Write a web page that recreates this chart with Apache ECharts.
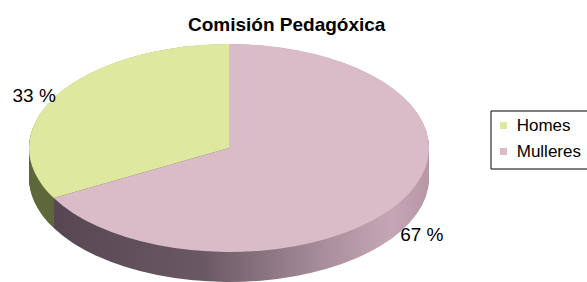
<!DOCTYPE html>
<html>
<head>
<meta charset="utf-8">
<title>Comisión Pedagóxica</title>
<script src="https://cdn.jsdelivr.net/npm/echarts@6/dist/echarts.min.js"></script>
<style>
  html, body { margin: 0; padding: 0; background: #fff; }
  #wrap { position: relative; width: 587px; height: 282px; overflow: hidden; }
  /* the pie is drawn round and squashed to look like the tilted 3d disc */
  #pie { position: absolute; left: 0; top: 0; width: 587px; height: 543px;
         transform: scaleY(0.52); transform-origin: 0 0; }
  #main { position: absolute; left: 0; top: 0; width: 587px; height: 282px; }
</style>
</head>
<body>
<div id="wrap">
  <div id="pie"></div>
  <div id="main"></div>
</div>
<script>
// datos
const categories = ['Homes', 'Mulleres'];
const values = [33, 67];
const faceColors = ['#dee89e', '#dabbc8'];

// xeometría do disco (px na pantalla)
const CX = 229, CY = 148, RX = 200, SCALE = 0.52, DEPTH = 30;
const RY = RX * SCALE;

const pieData = categories.map((name, i) => ({ name: name, value: values[i] }));

// lateral do disco: varias copias da tarta desprazadas cara abaixo
const sideHomes = '#5f693c';
const sideMulleres = new echarts.graphic.LinearGradient(0, 0, 1, 0, [
  { offset: 0, color: '#574752' },
  { offset: 0.4, color: '#6a5964' },
  { offset: 0.7, color: '#a58b98' },
  { offset: 0.9, color: '#c6a6b5' },
  { offset: 1, color: '#b797a6' }
]);

const pieSeries = [];
const depthU = DEPTH / SCALE;
for (let d = depthU; d > 0; d -= 1.5) {
  pieSeries.push({
    type: 'pie',
    silent: true,
    animation: false,
    clockwise: false,
    startAngle: 90,
    center: [CX, CY / SCALE + d],
    radius: RX,
    label: { show: false },
    labelLine: { show: false },
    itemStyle: { borderWidth: 0 },
    data: pieData.map((p, i) => ({
      name: p.name, value: p.value,
      itemStyle: { color: i === 0 ? sideHomes : sideMulleres }
    }))
  });
}
// cara superior
pieSeries.push({
  type: 'pie',
  silent: true,
  animation: false,
  clockwise: false,
  startAngle: 90,
  center: [CX, CY / SCALE],
  radius: RX,
  label: { show: false },
  labelLine: { show: false },
  itemStyle: { borderWidth: 0 },
  data: pieData.map((p, i) => ({ name: p.name, value: p.value, itemStyle: { color: faceColors[i] } }))
});

const pieChart = echarts.init(document.getElementById('pie'), null, { renderer: 'svg' });
pieChart.setOption({ animation: false, series: pieSeries });

// título, lenda e etiquetas por riba
const total = values.reduce((a, b) => a + b, 0);
const chart = echarts.init(document.getElementById('main'), null, { renderer: 'svg' });
chart.setOption({
  animation: false,
  color: faceColors,
  title: {
    text: 'Comisión Pedagóxica',
    left: 183,
    top: 10,
    textStyle: { fontFamily: 'Liberation Sans', fontWeight: 'bold', fontSize: 19, color: '#000' }
  },
  legend: {
    orient: 'vertical',
    left: 491,
    top: 111,
    padding: [6, 10, 9, 9],
    borderColor: '#000',
    borderWidth: 1,
    itemWidth: 7,
    itemHeight: 7,
    itemGap: 9,
    icon: 'rect',
    selectedMode: false,
    formatter: ' {name}',
    data: categories.map((c, i) => ({ name: c, itemStyle: { color: faceColors[i], opacity: 1 } })),
    textStyle: { fontFamily: 'Liberation Sans', fontSize: 17, color: '#000' }
  },
  series: [{
    type: 'pie',
    silent: true,
    clockwise: false,
    startAngle: 90,
    center: [CX, CY],
    radius: [0, 1],
    itemStyle: { color: 'rgba(0,0,0,0)' },
    labelLine: { show: false },
    label: {
      show: true,
      formatter: '{d} %',
      fontFamily: 'Liberation Sans',
      fontSize: 19,
      color: '#000'
    },
    labelLayout: function (params) {
      const i = params.dataIndex;
      let before = 0;
      for (let k = 0; k < i; k++) before += values[k];
      const mid = (before + values[i] / 2) / total * Math.PI * 2;
      const x = CX - RX * Math.sin(mid);
      const y = CY - RY * Math.cos(mid);
      const right = x > CX;
      return {
        x: x - 1,
        y: y > CY ? y + DEPTH + 4 : y,
        align: right ? 'left' : 'right',
        verticalAlign: 'middle'
      };
    },
    data: pieData
  }]
});
</script>
</body>
</html>
